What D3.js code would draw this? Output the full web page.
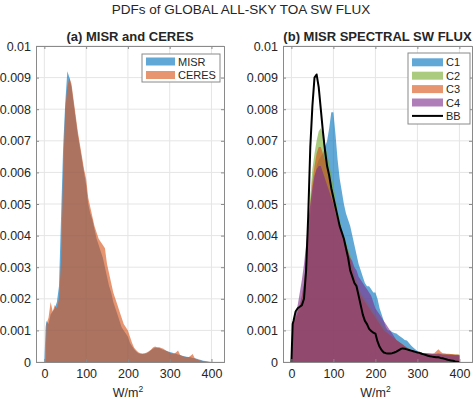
<!DOCTYPE html>
<html><head><meta charset="utf-8">
<script src="https://cdn.jsdelivr.net/npm/d3@7"></script>
<style>
body{margin:0;background:#fff;}
text{font-family:"Liberation Sans",Arial,Helvetica,sans-serif;fill:#262626;}
</style></head>
<body><svg id="chart" width="474" height="400"></svg>
<script>
// ---------- DATA ----------
const mainTitle = "PDFs of GLOBAL ALL-SKY TOA SW FLUX";
const titleA = "(a) MISR and CERES";
const titleB = "(b) MISR SPECTRAL SW FLUX";
const xLabel = "W/m";
const xTicks = [0, 100, 200, 300, 400];
const yTicks = [0, 0.001, 0.002, 0.003, 0.004, 0.005, 0.006, 0.007, 0.008, 0.009, 0.01];

// flux bins (W/m2)
const flux = [0,3,5,10,15,20,25,30,35,40,45,50,55,60,65,70,75,80,85,90,95,100,105,110,115,120,125,130,135,140,145,150,155,160,165,170,175,180,185,190,195,200,205,210,215,220,225,230,235,240,245,250,255,260,265,270,275,280,285,290,295,300,305,310,315,320,325,330,335,340,345,350,355,360,365,370,375,380,385,390,395,400];

// panel (a)
const misr = [0,0.0011,0.0013,0.0012,0.0015,0.0016,0.0017,0.0019,0.0024,0.0046,0.0068,0.0082,0.0092,0.0090,0.0087,0.0082,0.0077,0.0072,0.0068,0.0064,0.0060,0.0056,0.0050,0.0047,0.0045,0.0042,0.0039,0.0037,0.0035,0.0033,0.0030,0.0027,0.0024,0.0022,0.0019,0.0017,0.0015,0.0013,0.0011,0.0010,0.0009,0.0008,0.0006,0.0005,0.0004,0.00033,0.00028,0.00026,0.00025,0.00026,0.00028,0.00032,0.00037,0.00042,0.00045,0.00046,0.00044,0.00041,0.00038,0.00036,0.00034,0.00032,0.00030,0.00028,0.00026,0.00024,0.00022,0.00020,0.00018,0.00017,0.00016,0.00015,0.00013,0.00012,0.0001,0.00008,0.00006,0.00004,0.00003,0.00002,0.00001,0];
const ceres = [0,0,0.0012,0.0014,0.0019,0.0016,0.0018,0.0017,0.0020,0.0032,0.0060,0.0080,0.0087,0.0090,0.0088,0.0083,0.0078,0.0073,0.0069,0.0065,0.0061,0.0058,0.0052,0.0049,0.0046,0.0043,0.0041,0.0039,0.0038,0.0037,0.0036,0.0031,0.0028,0.0025,0.0022,0.0020,0.0018,0.0016,0.0014,0.0012,0.0011,0.0010,0.0008,0.0006,0.00045,0.00037,0.00031,0.00028,0.00027,0.00028,0.00030,0.00034,0.00039,0.00046,0.00049,0.00046,0.00047,0.00044,0.00042,0.00037,0.00033,0.00029,0.00027,0.00026,0.00030,0.00036,0.00022,0.00019,0.00017,0.00016,0.00015,0.00020,0.00025,0.00012,0.00008,0.00006,0.00004,0.00002,0.00001,0,0,0];

// panel (b)
const c1 = [0,0.0011,0.0012,0.0013,0.0015,0.0016,0.0018,0.0021,0.0027,0.0036,0.0045,0.0052,0.0058,0.0062,0.0064,0.0065,0.0066,0.0068,0.0070,0.0074,0.0079,0.0079,0.0072,0.0064,0.0058,0.0054,0.0050,0.0047,0.0045,0.0043,0.0040,0.0037,0.0034,0.0031,0.0029,0.0027,0.0025,0.0024,0.0024,0.0023,0.0022,0.0022,0.0020,0.0017,0.0015,0.0013,0.0011,0.0010,0.0010,0.00095,0.00092,0.0009,0.00085,0.0008,0.00075,0.0007,0.00068,0.0006,0.00052,0.00046,0.0004,0.00035,0.00032,0.0003,0.00028,0.00027,0.00026,0.00025,0.00024,0.00024,0.00023,0.00023,0.00023,0.00022,0.00022,0.00022,0.00021,0.00021,0.00021,0.0002,0.0002,0.0002];
const c2 = [0,0.0011,0.0013,0.0014,0.0016,0.0018,0.0021,0.0025,0.0032,0.0043,0.0053,0.0061,0.0066,0.0070,0.0073,0.0074,0.0072,0.0069,0.0066,0.0063,0.0059,0.0056,0.0052,0.0048,0.0045,0.0042,0.0040,0.0038,0.0036,0.0034,0.0031,0.0028,0.0026,0.0024,0.0022,0.0021,0.0020,0.0019,0.0018,0.0017,0.0016,0.0015,0.0014,0.0013,0.0012,0.0011,0.0010,0.0009,0.00085,0.0008,0.00075,0.0007,0.00065,0.0006,0.00055,0.0005,0.00046,0.00042,0.00038,0.00035,0.00033,0.00031,0.0003,0.00029,0.00028,0.00028,0.00027,0.00027,0.00026,0.00026,0.00027,0.00028,0.00027,0.00026,0.00026,0.00025,0.00025,0.00025,0.00024,0.00024,0.00024,0.00023];
const c3 = [0,0.0011,0.0013,0.0014,0.0016,0.0018,0.0021,0.0025,0.0031,0.0041,0.0050,0.0057,0.0062,0.0066,0.0068,0.0068,0.0066,0.0064,0.0061,0.0058,0.0055,0.0051,0.0048,0.0045,0.0043,0.0041,0.0039,0.0037,0.0035,0.0033,0.0030,0.0027,0.0025,0.0023,0.0021,0.0020,0.0019,0.0018,0.0017,0.0016,0.0015,0.0014,0.0013,0.0012,0.0011,0.0010,0.00095,0.0009,0.00085,0.0008,0.00075,0.0007,0.00065,0.0006,0.00055,0.0005,0.00046,0.00042,0.00038,0.00035,0.00033,0.00031,0.0003,0.00029,0.00028,0.00028,0.00028,0.00027,0.00027,0.00028,0.00034,0.0004,0.00033,0.00028,0.00027,0.00026,0.00026,0.00025,0.00025,0.00024,0.00024,0.00023];
const c4 = [0,0.0011,0.0013,0.0015,0.0018,0.0022,0.0026,0.0031,0.0037,0.0044,0.0050,0.0055,0.0059,0.0061,0.0062,0.0062,0.0060,0.0058,0.0056,0.0054,0.0052,0.0050,0.0047,0.0045,0.0043,0.0041,0.0039,0.0037,0.0035,0.0033,0.0032,0.0030,0.0029,0.0027,0.0026,0.0025,0.0024,0.0023,0.0022,0.0021,0.0019,0.0017,0.0016,0.0015,0.0014,0.0013,0.0012,0.0011,0.0010,0.0009,0.0008,0.0007,0.00065,0.0006,0.00055,0.0005,0.00045,0.0004,0.00037,0.00034,0.00032,0.0003,0.00029,0.00028,0.00027,0.00027,0.00026,0.00026,0.00025,0.00025,0.00025,0.00026,0.00025,0.00024,0.00024,0.00024,0.00023,0.00023,0.00022,0.00022,0.00022,0.00021];
const bb = [0,0.0012,0.0013,0.0016,0.0017,0.00175,0.0018,0.0020,0.0029,0.0046,0.0068,0.0081,0.0090,0.0091,0.0087,0.0080,0.0073,0.0067,0.0062,0.0059,0.0055,0.0052,0.0049,0.0046,0.0043,0.0041,0.0039,0.0036,0.0033,0.0029,0.0027,0.0025,0.0024,0.0021,0.0018,0.0015,0.0013,0.0012,0.00105,0.00098,0.00093,0.0009,0.00065,0.00048,0.00037,0.0003,0.00028,0.00027,0.00027,0.00028,0.0003,0.00033,0.00037,0.00041,0.00043,0.00042,0.0004,0.00038,0.00036,0.00034,0.00032,0.0003,0.00029,0.00026,0.00024,0.00022,0.0002,0.00018,0.00017,0.00016,0.00015,0.00015,0.00013,0.00012,0.0001,0.00008,0.00006,0.00005,0.00004,0.00002,0.00001,0];

const seriesA = [{name:"MISR", values:misr, color:"#0072BD"}, {name:"CERES", values:ceres, color:"#D95319"}];
const seriesB = [{name:"C1", values:c1, color:"#0072BD"}, {name:"C2", values:c2, color:"#77AC30"}, {name:"C3", values:c3, color:"#D95319"}, {name:"C4", values:c4, color:"#7E2F8E"}];
const lineB = {name:"BB", values:bb, color:"#000"};

// ---------- DRAW ----------
const svg = d3.select("#chart");
const ALPHA = 0.62;
const xDomain = [-20, 430], yDomain = [0, 0.01];
const yFmt = d => d === 0 ? "0" : String(+d.toFixed(3));

svg.append("text").attr("x", 241).attr("y", 14).attr("text-anchor","middle")
  .style("font-size","13.5px").text(mainTitle);

function panel(x0, x1, title, areas, line, legend) {
  const x = d3.scaleLinear(xDomain, [x0, x1]);
  const y = d3.scaleLinear(yDomain, [362, 46]);
  const g = svg.append("g");
  // grid
  g.append("g").selectAll("line").data(xTicks).join("line")
    .attr("x1", d => x(d)).attr("x2", d => x(d)).attr("y1", 46).attr("y2", 362)
    .attr("stroke", "#e5e5e5").attr("stroke-width", 1);
  g.append("g").selectAll("line").data(yTicks).join("line")
    .attr("x1", x0).attr("x2", x1).attr("y1", d => y(d)).attr("y2", d => y(d))
    .attr("stroke", "#e5e5e5").attr("stroke-width", 1);
  // areas
  const area = d3.area().x((d, i) => x(flux[i])).y0(y(0)).y1(d => y(d));
  areas.forEach(s => {
    g.append("path").datum(s.values).attr("d", area)
      .attr("fill", s.color).attr("fill-opacity", ALPHA);
  });
  if (line) {
    const ln = d3.line().x((d, i) => x(flux[i])).y(d => y(d));
    g.append("path").datum(line.values).attr("d", ln)
      .attr("fill", "none").attr("stroke", line.color).attr("stroke-width", 2).attr("stroke-linejoin","round");
  }
  // axes
  const axB = g.append("g").attr("transform", `translate(0,362)`)
    .call(d3.axisBottom(x).tickValues(xTicks).tickSize(-3).tickPadding(7));
  const axT = g.append("g").attr("transform", `translate(0,46)`)
    .call(d3.axisTop(x).tickValues(xTicks).tickSize(-3).tickFormat(""));
  const axL = g.append("g").attr("transform", `translate(${x0},0)`)
    .call(d3.axisLeft(y).tickValues(yTicks).tickSize(-3).tickPadding(5).tickFormat(yFmt));
  const axR = g.append("g").attr("transform", `translate(${x1},0)`)
    .call(d3.axisRight(y).tickValues(yTicks).tickSize(-3).tickFormat(""));
  [axB, axT, axL, axR].forEach(a => {
    a.selectAll(".domain").attr("stroke", "#8a8a8a");
    a.selectAll(".tick line").attr("stroke", "#8a8a8a");
    a.selectAll("text").style("font-size", "12.5px").attr("fill", "#262626")
      .style("font-family", '"Liberation Sans",Arial,sans-serif');
  });
  // titles
  svg.append("text").attr("x", (x0 + x1) / 2).attr("y", 41).attr("text-anchor", "middle")
    .style("font-size", "13px").style("font-weight", "bold").text(title);
  const xl = svg.append("text").attr("x", (x0 + x1) / 2 - 2).attr("y", 397).attr("text-anchor", "middle")
    .style("font-size", "12.5px");
  xl.append("tspan").text(xLabel);
  xl.append("tspan").attr("dy", -5).style("font-size", "8.5px").text("2");
  // legend
  const lg = svg.append("g");
  lg.append("rect").attr("x", legend.x).attr("y", legend.y).attr("width", legend.w).attr("height", legend.h)
    .attr("fill", "#fff").attr("stroke", "#8a8a8a").attr("stroke-width", 1);
  const items = areas.map(s => ({name: s.name, color: s.color, type: "area"}));
  if (line) items.push({name: line.name, color: line.color, type: "line"});
  items.forEach((it, i) => {
    const cy = legend.y + legend.first + i * legend.step;
    if (it.type === "area") {
      lg.append("rect").attr("x", legend.x + 4).attr("y", cy - 4).attr("width", legend.sw).attr("height", 8)
        .attr("fill", it.color).attr("fill-opacity", ALPHA);
    } else {
      lg.append("line").attr("x1", legend.x + 4).attr("x2", legend.x + 4 + legend.sw)
        .attr("y1", cy).attr("y2", cy).attr("stroke", it.color).attr("stroke-width", 2);
    }
    lg.append("text").attr("x", legend.x + legend.sw + 7).attr("y", cy + 4)
      .style("font-size", "11px").text(it.name);
  });
}

panel(36, 224, titleA, seriesA, null, {x: 142, y: 54, w: 78, h: 28, first: 7.5, step: 13.5, sw: 29});
panel(283, 472, titleB, seriesB, lineB, {x: 408, y: 53, w: 62, h: 71, first: 9.3, step: 13.4, sw: 31});
</script></body></html>
